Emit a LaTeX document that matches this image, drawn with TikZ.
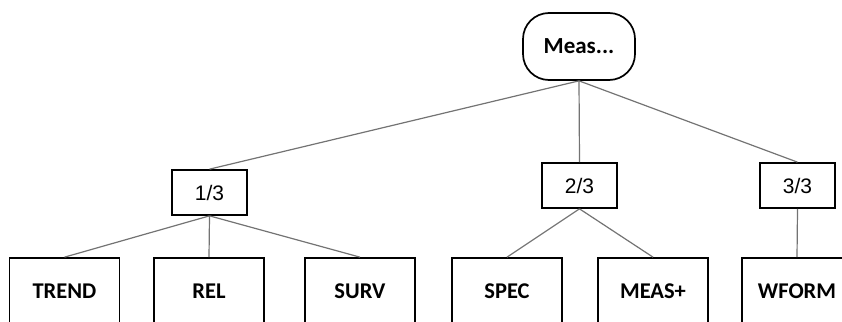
\documentclass[tikz,border=0pt]{standalone}
\usepackage{fontspec}
\newfontfamily\carlito{Carlito}
\newfontfamily\arialish{Liberation Sans}
\begin{document}
\begin{tikzpicture}[x=1pt, y=-1pt,
    rootbox/.style={draw=black, line width=1.7pt, rounded corners=26pt, inner sep=0pt,
        minimum width=112pt, minimum height=67pt, font=\carlito\bfseries\fontsize{23}{26}\selectfont},
    midbox/.style={draw=black, line width=1.7pt, inner sep=0pt,
        minimum width=75pt, minimum height=45pt, font=\arialish\fontsize{21}{24}\selectfont},
    leafbox/.style={draw=black, line width=1.7pt, inner sep=0pt,
        minimum width=110pt, minimum height=66pt, font=\carlito\bfseries\fontsize{22.5}{26}\selectfont},
    link/.style={draw=black!55, line width=1.2pt}]

    % Cadre de l'image
    \useasboundingbox (0,0) rectangle (842,321);

    % Racine
    \node[rootbox] (root) at (579,46.5) {Meas...};

    % Niveau intermediaire
    \node[midbox] (m1) at (209.5,192.5) {1/3};
    \node[midbox] (m2) at (579.5,185.5) {2/3};
    \node[midbox] (m3) at (797.5,185.5) {3/3};

    % Feuilles (coupees en bas)
    \node[leafbox] (trend) at (64.5,291) {TREND};
    \node[leafbox] (rel)   at (209,291)  {REL};
    \node[leafbox] (surv)  at (360,291)  {SURV};
    \node[leafbox] (spec)  at (507,291)  {SPEC};
    \node[leafbox] (measp) at (653,291)  {MEAS+};
    \node[leafbox] (wform) at (797,291)  {WFORM};

    % Liaisons
    \draw[link] (root.south) -- (m1.north);
    \draw[link] (root.south) -- (m2.north);
    \draw[link] (root.south) -- (m3.north);

    \draw[link] (m1.south) -- (trend.north);
    \draw[link] (m1.south) -- (rel.north);
    \draw[link] (m1.south) -- (surv.north);

    \draw[link] (m2.south) -- (spec.north);
    \draw[link] (m2.south) -- (measp.north);

    \draw[link] (m3.south) -- (wform.north);

\end{tikzpicture}
\end{document}
